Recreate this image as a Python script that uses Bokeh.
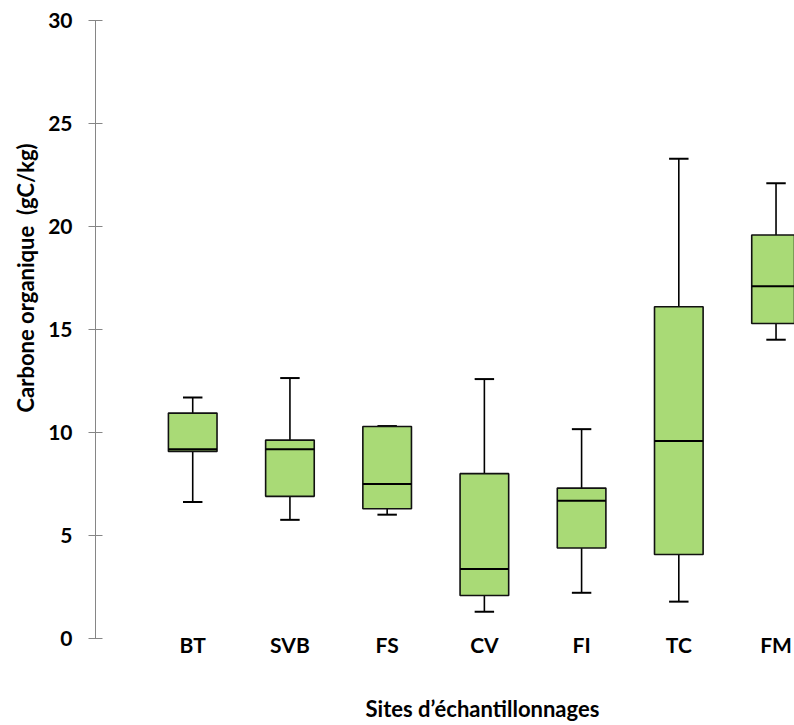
from bokeh.plotting import figure
from bokeh.models import Range1d, FixedTicker, ColumnDataSource, Title, Label
from bokeh.core.properties import value
from bokeh.embed import file_html
from bokeh.resources import INLINE

# ---- data ----
categories = ["BT", "SVB", "FS", "CV", "FI", "TC", "FM"]
whisker_low = [6.63, 5.77, 6.02, 1.31, 2.23, 1.80, 14.51]
q1 = [9.09, 6.91, 6.31, 2.10, 4.40, 4.09, 15.30]
median = [9.19, 9.20, 7.51, 3.38, 6.70, 9.59, 17.11]
q3 = [10.95, 9.64, 10.30, 8.01, 7.31, 16.11, 19.59]
whisker_high = [11.71, 12.65, 10.32, 12.60, 10.17, 23.29, 22.10]
y_ticks = [0, 5, 10, 15, 20, 25, 30]
x_title = "Sites d\u2019\u00e9chantillonnages"
y_title = "Carbone organique\u00a0 (gC/kg)"

# ---- styling / layout ----
FONT = "Lato"
FILL = "#A9DA76"
AXIS_GREY = "#868686"
BOX_W = 0.5
CAP_W = 0.2
Y_MIN, Y_MAX = -4.21, 30          # frame runs to the bottom of the canvas
PX_PER_UNIT = 705 / (Y_MAX - Y_MIN)
LABEL_DROP_PX = 6                 # category label baseline below y=0
TITLE_DROP_PX = 70                # x-title baseline below y=0

xs = list(range(1, len(categories) + 1))
src = ColumnDataSource(dict(
    x=xs,
    lo=whisker_low, q1=q1, med=median, q3=q3, hi=whisker_high,
    cap_l=[x - CAP_W / 2 for x in xs], cap_r=[x + CAP_W / 2 for x in xs],
    box_l=[x - BOX_W / 2 for x in xs], box_r=[x + BOX_W / 2 for x in xs],
    lab=categories, lab_y=[-LABEL_DROP_PX / PX_PER_UNIT] * len(xs),
))

p = figure(width=794, height=725, output_backend="svg", toolbar_location=None,
           x_range=Range1d(0, 7.19), y_range=Range1d(Y_MIN, Y_MAX),
           min_border_left=95, min_border_right=0, min_border_top=20,
           min_border_bottom=0)
p.outline_line_color = None
p.xgrid.visible = False
p.ygrid.visible = False
p.background_fill_color = "white"
p.border_fill_color = "white"

# whiskers (vertical lines)
p.segment(x0="x", y0="lo", x1="x", y1="q1", source=src, line_color="black", line_width=1.6)
p.segment(x0="x", y0="q3", x1="x", y1="hi", source=src, line_color="black", line_width=1.6)
# caps
p.segment(x0="cap_l", y0="lo", x1="cap_r", y1="lo", source=src, line_color="black", line_width=2)
p.segment(x0="cap_l", y0="hi", x1="cap_r", y1="hi", source=src, line_color="black", line_width=2)
# boxes
p.vbar(x="x", width=BOX_W, bottom="q1", top="q3", source=src,
       fill_color=FILL, line_color="#111111", line_width=1.6)
# medians
p.segment(x0="box_l", y0="med", x1="box_r", y1="med", source=src, line_color="black", line_width=2)

# category labels (x axis without line/ticks)
p.text(x="x", y="lab_y", text="lab", source=src, text_align="center",
       text_baseline="alphabetic", text_font=value(FONT), text_font_style="bold",
       text_font_size="21px", text_color="black")

# y axis
ya = p.yaxis[0]
ya.ticker = FixedTicker(ticks=y_ticks)
ya.bounds = (0, 30)
ya.axis_line_color = AXIS_GREY
ya.major_tick_line_color = AXIS_GREY
ya.minor_tick_line_color = None
ya.major_tick_in = 7
ya.major_tick_out = 7
ya.major_label_standoff = 16
ya.major_label_text_font = FONT
ya.major_label_text_font_style = "bold"
ya.major_label_text_font_size = "21px"
ya.major_label_text_color = "black"

p.xaxis.visible = False

# axis titles placed like the original
p.add_layout(Title(text=y_title, align="left", offset=313, standoff=14,
                   vertical_align="bottom",
                   text_font=FONT, text_font_style="bold", text_font_size="22px",
                   text_color="black"), "left")
p.add_layout(Label(x=3.98, y=-TITLE_DROP_PX / PX_PER_UNIT, text=x_title,
                   text_align="center", text_baseline="alphabetic",
                   text_font=FONT, text_font_style="bold", text_font_size="22px",
                   text_color="black"))

open("out.html", "w").write(file_html(p, INLINE))
